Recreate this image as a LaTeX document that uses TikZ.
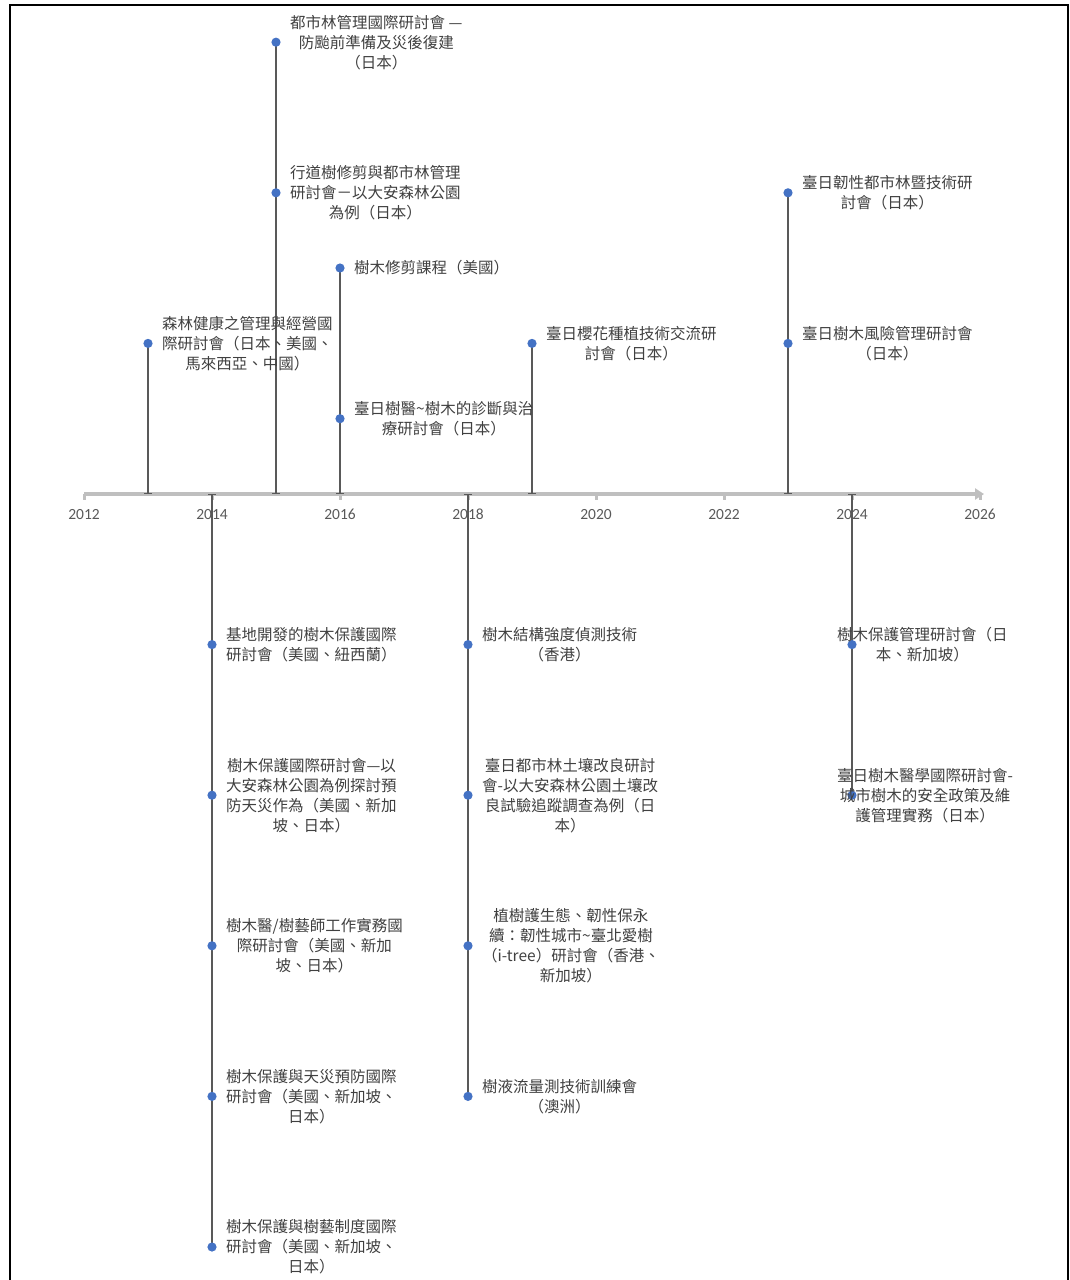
\documentclass[tikz,border=0pt]{standalone}
\usepackage{fontspec}
\usepackage{tkz-euclide}
\usetikzlibrary{positioning,arrows.meta}
\setmainfont{Noto Sans CJK TC}
\newfontfamily\yearfont{Carlito}
\definecolor{dotblue}{HTML}{4472C4}
\definecolor{axisgray}{HTML}{BFBFBF}
\definecolor{stemgray}{HTML}{595959}
\definecolor{txtgray}{HTML}{404040}
\tikzset{
  lbl/.style={align=center, inner sep=0pt, text=txtgray, font=\fontsize{15.5}{20}\selectfont},
  stem/.style={draw=stemgray, line width=1.3pt, arrows={Bar[width=8pt,line width=1.3pt]-}},
  yrlbl/.style={text=stemgray, inner sep=0pt, font=\yearfont\fontsize{15.5}{18}\selectfont},
}

\begin{document}
\begin{tikzpicture}[x=1pt,y=-1pt]
    \useasboundingbox (0,0) rectangle (1070,1280);
    \clip (0,0) rectangle (1070,1280);
    \draw[line width=2pt] (9.5,5) rectangle (1068,1300);
    % axis
    \tkzDefPoints{84/494/O, 984/494/E}
    \draw[axisgray, line width=3.5pt, -{Triangle[length=9pt,width=11pt]}] (O) -- (E);
    \foreach \yr in {2012,2014,...,2026}{
        \draw[axisgray, line width=3pt] ({84+(\yr-2012)*64},494) -- ({84+(\yr-2012)*64},500);
        \node[yrlbl] (y\yr) at ({84+(\yr-2012)*64},514.5) {\yr};
    }
    % feet on the axis and dots
    \tkzDefPoints{148/494/B13, 212/494/B14, 276/494/B15, 340/494/B16,
        468/494/B18, 532/494/B19, 788/494/B23, 852/494/B24}
    \tkzDefPoints{148/343.4/S13, 276/42.2/S15a, 276/192.8/S15b,
        340/268/S16a, 340/418.7/S16b, 532/343.4/S19,
        788/192.8/S23a, 788/343.4/S23b}
    \tkzDefPoints{212/644.6/S14a, 212/795.2/S14b, 212/945.8/S14c,
        212/1096.4/S14d, 212/1247/S14e,
        468/644.6/S18a, 468/795.2/S18b, 468/945.8/S18c, 468/1096.4/S18d,
        852/644.6/S24a, 852/795.2/S24b}
    \tkzDrawSegments[stem](B13,S13 B15,S15a B16,S16a B19,S19 B23,S23a)
    \tkzDrawSegments[stem](B14,S14e B18,S18d B24,S24b)
    \foreach \p in {S13,S15a,S15b,S16a,S16b,S19,S23a,S23b,
        S14a,S14b,S14c,S14d,S14e,S18a,S18b,S18c,S18d,S24a,S24b}
        \fill[dotblue] (\p) circle (4.6pt);
    % above the axis
    \node[lbl, right=14pt of S13] (L13) {森林健康之管理與經營國\\際研討會（日本、美國、\\馬來西亞、中國）};
    \node[lbl, right=14pt of S15a] (L15a) {都市林管理國際研討會 —\\防颱前準備及災後復建\\（日本）};
    \node[lbl, right=14pt of S15b] (L15b) {行道樹修剪與都市林管理\\研討會－以大安森林公園\\為例（日本）};
    \node[lbl, right=14pt of S16a] (L16a) {樹木修剪課程（美國）};
    \node[lbl, right=14pt of S16b] (L16b) {臺日樹醫\textasciitilde 樹木的診斷與治\\療研討會（日本）};
    \node[lbl, right=14pt of S19] (L19) {臺日櫻花種植技術交流研\\討會（日本）};
    \node[lbl, right=14pt of S23a] (L23a) {臺日韌性都市林暨技術研\\討會（日本）};
    \node[lbl, right=14pt of S23b] (L23b) {臺日樹木風險管理研討會\\（日本）};
    % below the axis
    \node[lbl, right=14pt of S14a] (L14a) {基地開發的樹木保護國際\\研討會（美國、紐西蘭）};
    \node[lbl, right=14pt of S14b] (L14b) {樹木保護國際研討會—以\\大安森林公園為例探討預\\防天災作為（美國、新加\\坡、日本）};
    \node[lbl, right=14pt of S14c] (L14c) {樹木醫/樹藝師工作實務國\\際研討會（美國、新加\\坡、日本）};
    \node[lbl, right=14pt of S14d] (L14d) {樹木保護與天災預防國際\\研討會（美國、新加坡、\\日本）};
    \node[lbl, right=14pt of S14e] (L14e) {樹木保護與樹藝制度國際\\研討會（美國、新加坡、\\日本）};
    \node[lbl, right=14pt of S18a] (L18a) {樹木結構強度偵測技術\\（香港）};
    \node[lbl, right=14pt of S18b] (L18b) {臺日都市林土壤改良研討\\會-以大安森林公園土壤改\\良試驗追蹤調查為例（日\\本）};
    \node[lbl, right=14pt of S18c] (L18c) {植樹護生態、韌性保永\\續：韌性城市\textasciitilde 臺北愛樹\\（i-tree）研討會（香港、\\新加坡）};
    \node[lbl, right=14pt of S18d] (L18d) {樹液流量測技術訓練會\\（澳洲）};
    \node[lbl, right=-15pt of S24a] (L24a) {樹木保護管理研討會（日\\本、新加坡）};
    \node[lbl, right=-15pt of S24b] (L24b) {臺日樹木醫學國際研討會-\\城市樹木的安全政策及維\\護管理實務（日本）};
\end{tikzpicture}
\end{document}
